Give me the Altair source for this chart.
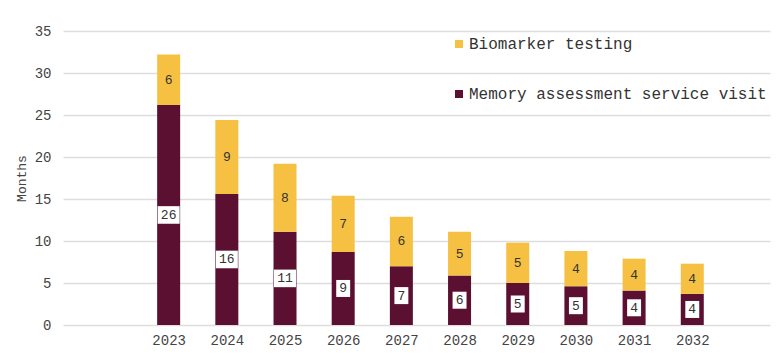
import altair as alt
import pandas as pd

years = [2023, 2024, 2025, 2026, 2027, 2028, 2029, 2030, 2031, 2032]
memory_visit = [26.2, 15.6, 11.1, 8.7, 7.0, 5.9, 5.0, 4.6, 4.1, 3.7]
biomarker = [6.0, 8.8, 8.1, 6.7, 5.9, 5.2, 4.8, 4.2, 3.8, 3.6]
series_names = ["Biomarker testing", "Memory assessment service visit"]
colors = ["#f6c143", "#5b0f31"]
y_ticks = [0, 5, 10, 15, 20, 25, 30, 35]

FONT = "Liberation Mono"

rows = []
for y, m, b in zip(years, memory_visit, biomarker):
    rows.append({"year": y, "series": series_names[1], "value": m, "order": 0})
    rows.append({"year": y, "series": series_names[0], "value": b, "order": 1})
df = pd.DataFrame(rows)

wide = pd.DataFrame({"year": years, "mem": memory_visit, "bio": biomarker})

xscale = alt.Scale(domain=[2021.27, 2033.25], nice=False, zero=False)
yscale = alt.Scale(domain=[0, 35], nice=False)

x_enc = alt.X("year:Q", scale=xscale,
              axis=alt.Axis(values=years, format="d", title=None, grid=False,
                            domain=False, ticks=False, labelFont=FONT,
                            labelFontSize=14, labelColor="#444",
                            labelPadding=8))

bars = alt.Chart(df).mark_bar(width=23).encode(
    x=x_enc,
    y=alt.Y("value:Q", stack="zero", scale=yscale,
            axis=alt.Axis(values=y_ticks, title="Months", domain=False,
                          ticks=False, gridColor="#dddddd", gridWidth=1.5,
                          labelFont=FONT, labelFontSize=14, labelColor="#444",
                          labelPadding=12, titleFont=FONT, titleFontSize=13,
                          titleFontWeight="normal", titleColor="#444",
                          titlePadding=6)),
    color=alt.Color("series:N",
                    scale=alt.Scale(domain=series_names, range=colors),
                    legend=alt.Legend(title=None, orient="none", legendX=388,
                                      legendY=5, symbolType="square",
                                      symbolSize=64, symbolStrokeWidth=0,
                                      labelFont=FONT, labelFontSize=16,
                                      labelColor="#333", rowPadding=34,
                                      labelOffset=2, labelLimit=0)),
    order=alt.Order("order:Q"),
)

base = alt.Chart(wide).transform_calculate(
    bio_mid="datum.mem + datum.bio / 2",
    mem_mid="datum.mem / 2",
    bio_lab="format(round(datum.bio), 'd')",
    mem_lab="format(round(datum.mem), 'd')",
)

bio_text = base.mark_text(font=FONT, fontSize=13, color="#333").encode(
    x=alt.X("year:Q", scale=xscale),
    y=alt.Y("bio_mid:Q", scale=yscale),
    text="bio_lab:N",
)

box2 = base.transform_filter("length(datum.mem_lab) > 1").mark_point(
    shape="M-1,-0.8L1,-0.8L1,0.8L-1,0.8Z", size=484, filled=True,
    color="white", opacity=1, strokeWidth=0).encode(
    x=alt.X("year:Q", scale=xscale),
    y=alt.Y("mem_mid:Q", scale=yscale),
)
box1 = base.transform_filter("length(datum.mem_lab) == 1").mark_point(
    shape="M-0.82,-1L0.82,-1L0.82,1L-0.82,1Z", size=289, filled=True,
    color="white", opacity=1, strokeWidth=0).encode(
    x=alt.X("year:Q", scale=xscale),
    y=alt.Y("mem_mid:Q", scale=yscale),
)

mem_text = base.mark_text(font=FONT, fontSize=13, color="#333").encode(
    x=alt.X("year:Q", scale=xscale),
    y=alt.Y("mem_mid:Q", scale=yscale),
    text="mem_lab:N",
)

chart = alt.layer(bars, bio_text, box2, box1, mem_text).properties(
    width=707, height=294,
    autosize=alt.AutoSizeParams(type="none"),
    padding={"left": 63, "top": 31, "right": 8, "bottom": 31},
).configure_view(stroke=None)

chart.save("out.html", embed_options={"renderer": "svg", "actions": False})
